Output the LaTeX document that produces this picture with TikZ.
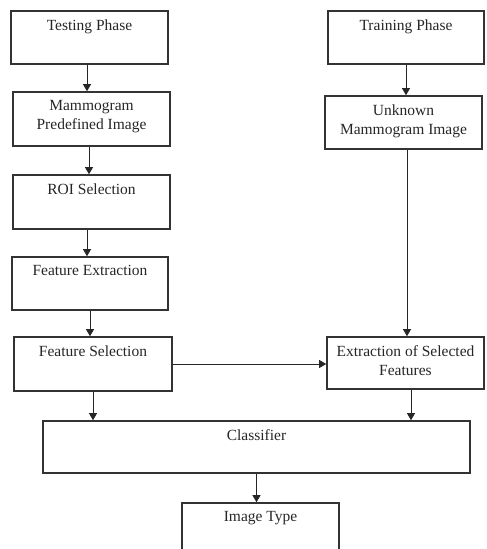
\documentclass[tikz,border=0pt]{standalone}
\usepackage{fontspec}
\setmainfont{Liberation Serif}
\usetikzlibrary{arrows.meta,calc}
\begin{document}
\begin{tikzpicture}[x=1pt,y=-1pt,
  boxs/.style={draw=black!80, line width=1.6pt, rectangle, inner sep=0pt},
  lbl/.style={anchor=north, inner sep=0pt, align=center, text=black!85,
    font=\fontsize{15.5}{19}\selectfont},
  arr/.style={draw=black!85, line width=0.8pt, -{Triangle[length=7pt,width=8pt]}}]
\useasboundingbox (0,0) rectangle (487,549);
\clip (0,0) rectangle (487,549);
% boxes: corners
\node[boxs, fit/.style={}, minimum width=157pt, minimum height=53pt] (tp) at (89.5,37.5) {};
\node[boxs, minimum width=157pt, minimum height=54pt] (mp) at (91.5,119) {};
\node[boxs, minimum width=157pt, minimum height=54pt] (roi) at (91.5,202) {};
\node[boxs, minimum width=156pt, minimum height=53pt] (fe) at (90,283.5) {};
\node[boxs, minimum width=158pt, minimum height=54pt] (fs) at (93,364) {};
\node[boxs, minimum width=156pt, minimum height=53pt] (tr) at (406,37.5) {};
\node[boxs, minimum width=157pt, minimum height=53pt] (um) at (403.5,122.5) {};
\node[boxs, minimum width=157pt, minimum height=52pt] (es) at (405.5,363) {};
\node[boxs, minimum width=427pt, minimum height=52pt] (cl) at (256.5,447) {};
\node[boxs, minimum width=157pt, minimum height=60pt] (it) at (260.5,533) {};
% labels
\node[lbl] (tpt) at ($(tp.north)+(0,9)$) {Testing Phase};
\node[lbl] (mpt) at ($(mp.north)+(0,9)$) {Mammogram\\Predefined Image};
\node[lbl] (roit) at ($(roi.north)+(0,9)$) {ROI Selection};
\node[lbl] (fet) at ($(fe.north)+(0,9)$) {Feature Extraction};
\node[lbl] (fst) at ($(fs.north)+(0,9)$) {Feature Selection};
\node[lbl] (trt) at ($(tr.north)+(0,9)$) {Training Phase};
\node[lbl] (umt) at ($(um.north)+(0,9)$) {Unknown\\Mammogram Image};
\node[lbl] (est) at ($(es.north)+(0,9)$) {Extraction of Selected\\Features};
\node[lbl] (clt) at ($(cl.north)+(0,9)$) {Classifier};
\node[lbl] (itt) at ($(it.north)+(0,9)$) {Image Type};
% arrows
\draw[arr] ([xshift=-2.5pt]tp.south) -- ([xshift=-2.5pt]tp.south |- mp.north);
\draw[arr] ([xshift=-2.5pt]mp.south) -- ([xshift=-2.5pt]mp.south |- roi.north);
\draw[arr] ([xshift=-4.5pt]roi.south) -- ([xshift=-4.5pt]roi.south |- fe.north);
\draw[arr] (fe.south) -- (fe.south |- fs.north);
\draw[arr] (fs.south) -- (fs.south |- cl.north);
\draw[arr] (tr.south) -- (tr.south |- um.north);
\draw[arr] ([xshift=3.5pt]um.south) -- ([xshift=3.5pt]um.south |- es.north);
\draw[arr] (fs.east) -- (fs.east -| es.west);
\draw[arr] ([xshift=5.5pt]es.south) -- ([xshift=5.5pt]es.south |- cl.north);
\draw[arr] (cl.south) -- (cl.south |- it.north);
\end{tikzpicture}
\end{document}
